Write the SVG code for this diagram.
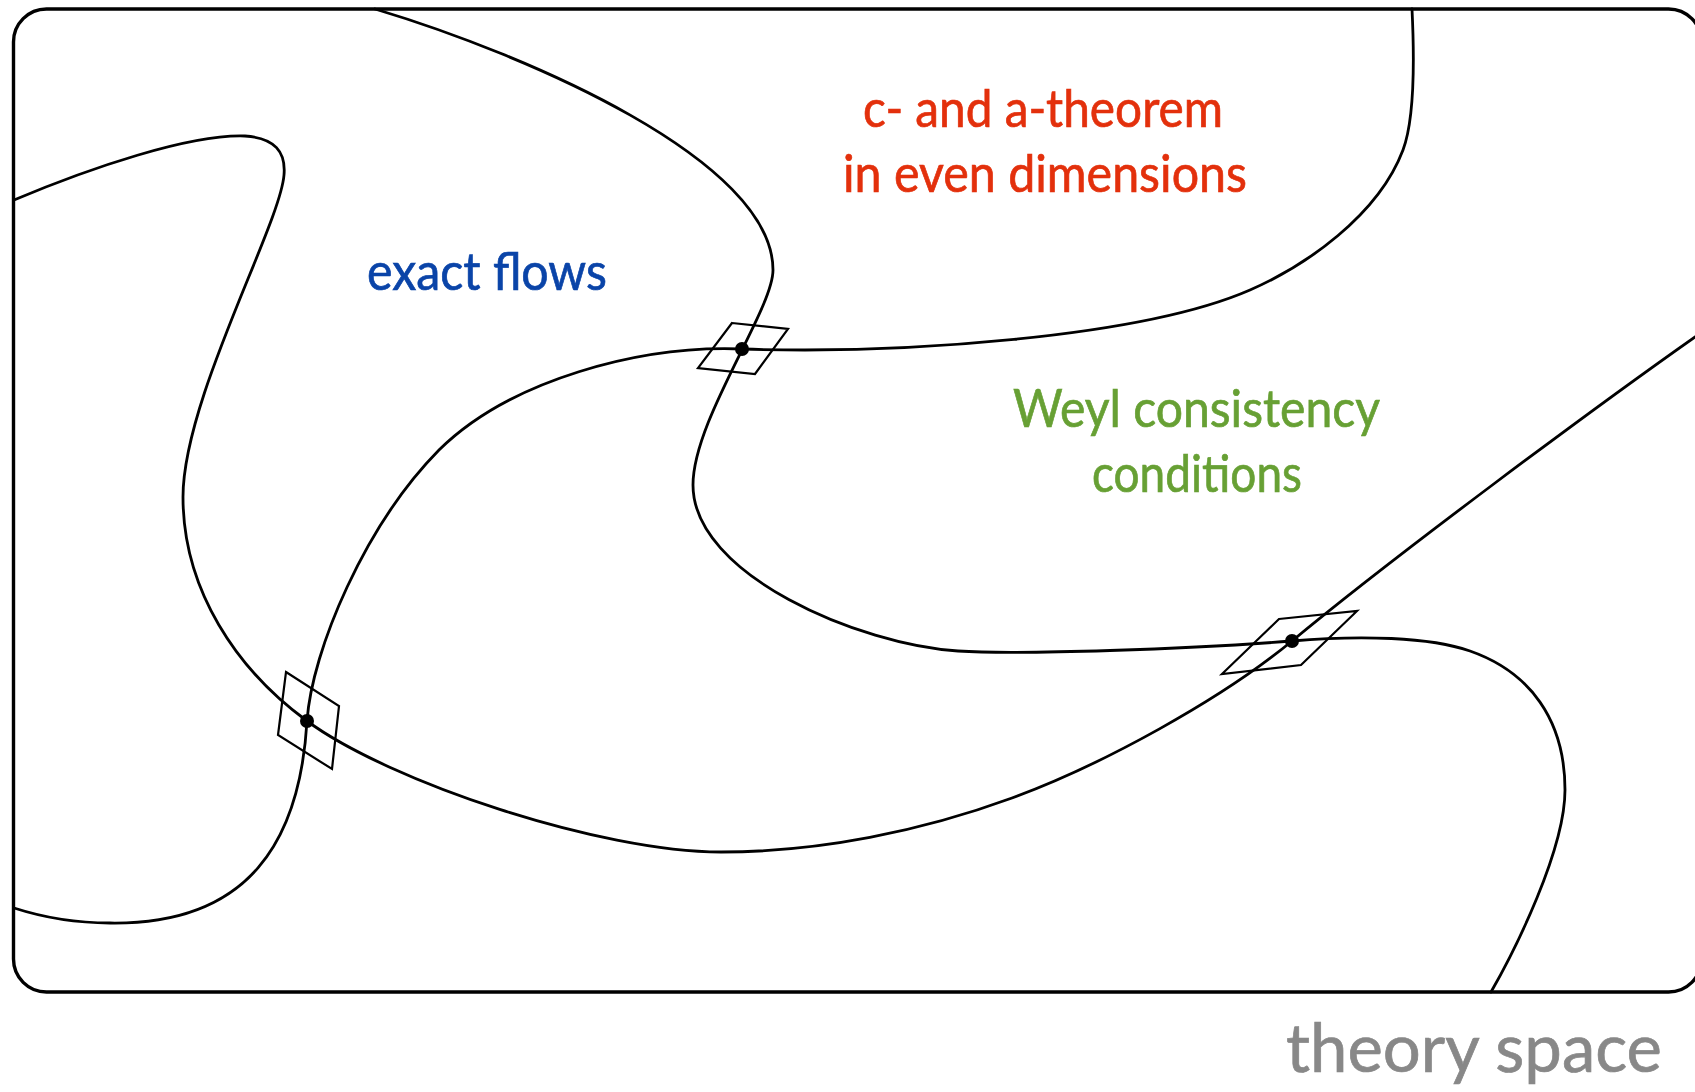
<svg xmlns="http://www.w3.org/2000/svg" width="1695" height="1092" viewBox="0 0 1695 1092">
<style>
.frame{fill:none;stroke:#000;stroke-width:3.4}
.flow{fill:none;stroke:#000;stroke-width:2.8;stroke-linecap:round}
.tan{fill:none;stroke:#000;stroke-width:2.2;stroke-linejoin:miter}
.fp{fill:#000}
.lbl{font-family:Lato,"Open Sans","Liberation Sans",sans-serif;font-size:53px;stroke-width:0.7}
</style>
<rect width="1695" height="1092" fill="#fff"/>
<g id="frame"><rect class="frame" x="13.5" y="9" width="1688" height="983" rx="33" ry="33"/></g>
<g id="connectors">
<path id="curveA" class="flow" d="M14,200 C90,168 190,134 245,136 C275,138 286,152 284,175 C280,225 183,400 183,497 C183,590 237,670 307,721 C390,782 600,852 721,852 C820,852 922,831 1012,798 C1102,765 1222,699 1292,641 C1392,558 1595,407 1702,332"/>
<path id="curveB" class="flow" d="M14,908 C45,918 75,923 110,923 C250,925 300,840 307,721 C312,650 365,525 439,450 C510,380 640,345 742,349 C900,354 1140,338 1250,290 C1305,266 1378,216 1403,150 C1415,118 1414,50 1412,9"/>
<path id="curveC" class="flow" d="M375,9 C525,54 773,160 773,270 C773,310 693,420 693,485 C693,575 860,645 958,651 C1018,655 1192,649 1292,641 C1360,635 1430,637 1470,651 C1530,672 1565,720 1565,790 C1565,850 1515,950 1491,992"/>
</g>
<g id="fp1"><polygon class="tan" points="732,323 788,329 755,374 698,368"/><circle class="fp" cx="742" cy="349" r="7"/></g>
<g id="fp2"><polygon class="tan" points="286,672 339,706 332,769 278,735"/><circle class="fp" cx="307" cy="721" r="7"/></g>
<g id="fp3"><polygon class="tan" points="1279,619 1357,611 1301,665 1222,674"/><circle class="fp" cx="1292" cy="641" r="7"/></g>
<g id="label-exact"><text class="lbl" x="367" y="290" fill="#0a44a8" stroke="#0a44a8" textLength="240" lengthAdjust="spacingAndGlyphs">exact flows</text></g>
<g id="label-ca">
<text class="lbl" x="863" y="127" fill="#e3300c" stroke="#e3300c" textLength="360" lengthAdjust="spacingAndGlyphs">c- and a-theorem</text>
<text class="lbl" x="843" y="192" fill="#e3300c" stroke="#e3300c" textLength="404" lengthAdjust="spacingAndGlyphs">in even dimensions</text>
</g>
<g id="label-weyl">
<text class="lbl" x="1013" y="427" fill="#67a034" stroke="#67a034" textLength="367" lengthAdjust="spacingAndGlyphs">Weyl consistency</text>
<text class="lbl" x="1092" y="492" fill="#67a034" stroke="#67a034" textLength="210" lengthAdjust="spacingAndGlyphs">conditions</text>
</g>
<g id="label-space"><text class="lbl" x="1286" y="1072" fill="#888888" stroke="#888888" style="font-size:68px" textLength="376" lengthAdjust="spacingAndGlyphs">theory space</text></g>
</svg>
